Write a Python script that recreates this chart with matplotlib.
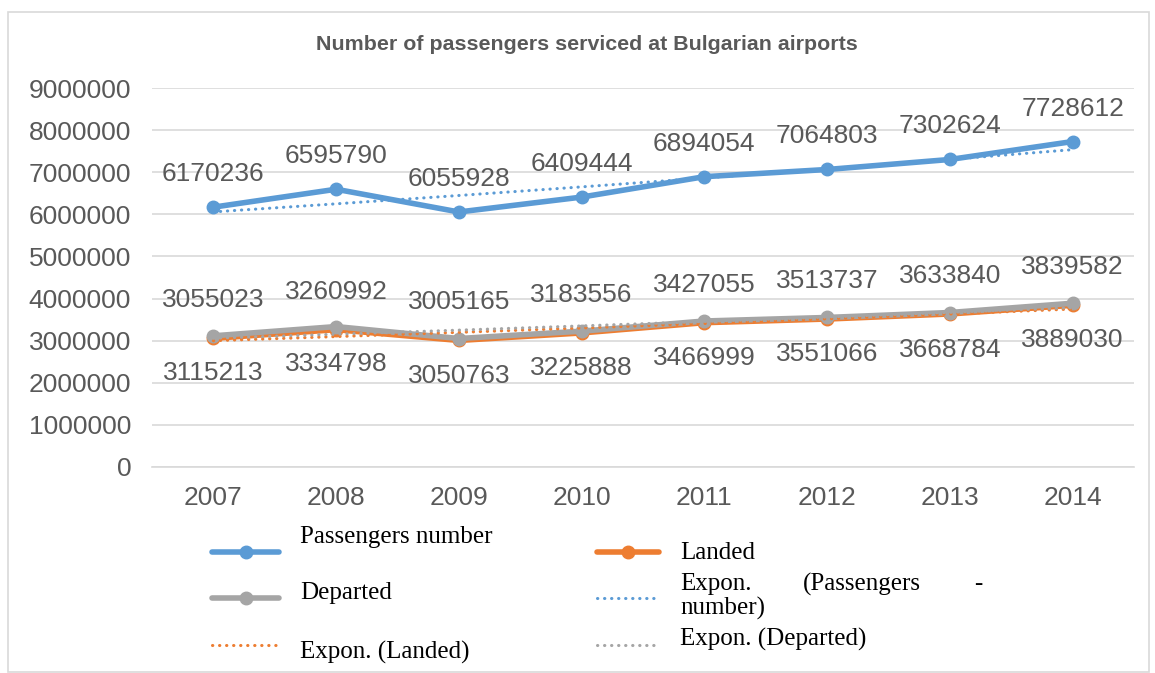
import numpy as np
import matplotlib
matplotlib.use("Agg")
import matplotlib.pyplot as plt
from matplotlib.lines import Line2D
from matplotlib.patches import Rectangle

years = ["2007", "2008", "2009", "2010", "2011", "2012", "2013", "2014"]
passengers = [6170236, 6595790, 6055928, 6409444, 6894054, 7064803, 7302624, 7728612]
landed = [3055023, 3260992, 3005165, 3183556, 3427055, 3513737, 3633840, 3839582]
departed = [3115213, 3334798, 3050763, 3225888, 3466999, 3551066, 3668784, 3889030]
yticks = [0, 1000000, 2000000, 3000000, 4000000, 5000000, 6000000, 7000000, 8000000, 9000000]

BLUE = "#5B9BD5"
ORANGE = "#ED7D31"
GRAY = "#A5A5A5"
TXT = "#595959"

W, H = 1155, 673
fig = plt.figure(figsize=(W / 100, H / 100), dpi=100)
fig.patch.set_facecolor("white")
fig.add_artist(Rectangle((8 / W, 1 - 672 / H), (1149 - 8) / W, (672 - 12) / H,
                         transform=fig.transFigure, fill=False, edgecolor="#D9D9D9", lw=1.2))

ax = fig.add_axes([152 / W, 1 - 467 / H, (1134 - 152) / W, (467 - 88) / H])
x = np.arange(len(years))

def expfit(vals):
    t = np.arange(1, len(vals) + 1)
    b, lna = np.polyfit(t, np.log(vals), 1)
    return np.exp(lna) * np.exp(b * t)

DOTSTYLE = (0, (0.1, 2.2))

ax.plot(x, passengers, color=BLUE, lw=4, marker="o", ms=9, solid_capstyle="round", zorder=3)
ax.plot(x, landed, color=ORANGE, lw=4, marker="o", ms=9, solid_capstyle="round", zorder=3)
ax.plot(x, departed, color=GRAY, lw=4, marker="o", ms=9, solid_capstyle="round", zorder=3)
dots = dict(lw=2.2, linestyle=DOTSTYLE, dash_capstyle="round", zorder=4)
ax.plot(x, expfit(passengers), color=BLUE, **dots)
ax.plot(x, expfit(landed), color=ORANGE, **dots)
ax.plot(x, expfit(departed), color=GRAY, **dots)

lab = dict(ha="center", va="center", fontsize=19, color=TXT, family="Liberation Sans",
           textcoords="offset pixels")
for i in x:
    ax.annotate(str(passengers[i]), (i, passengers[i]), xytext=(0, 33), **lab)
    ax.annotate(str(landed[i]), (i, landed[i]), xytext=(0, 38), **lab)
    ax.annotate(str(departed[i]), (i, departed[i]), xytext=(0, -37), **lab)

ax.set_xlim(-0.5, len(years) - 0.5)
ax.set_ylim(0, 9000000)
ax.set_yticks(yticks)
ax.set_yticklabels([str(v) for v in yticks])
ax.set_xticks(x)
ax.set_xticklabels(years)
ax.grid(axis="y", color="#D9D9D9", lw=1.2)
ax.set_axisbelow(True)
for s in ["top", "right", "left"]:
    ax.spines[s].set_visible(False)
ax.spines["bottom"].set_color("#D9D9D9")
ax.spines["bottom"].set_linewidth(1.2)
ax.tick_params(axis="y", length=0, labelsize=19, labelcolor=TXT, pad=15)
ax.tick_params(axis="x", length=0, labelsize=19, labelcolor=TXT, pad=14)
for t in ax.get_xticklabels() + ax.get_yticklabels():
    t.set_family("Liberation Sans")

fig.text(587 / W, 1 - 45 / H, "Number of passengers serviced at Bulgarian airports",
         ha="center", va="center", fontsize=15.4, fontweight="bold", color=TXT,
         family="Liberation Sans")

# legend
def fx(px):
    return px / W

def fy(py):
    return 1 - py / H

def handle(x0, x1, y, color, dotted):
    if dotted:
        fig.add_artist(Line2D([fx(x0), fx(x1)], [fy(y), fy(y)], color=color, lw=2.2,
                              linestyle=DOTSTYLE, dash_capstyle="round"))
    else:
        fig.add_artist(Line2D([fx(x0), fx(x1)], [fy(y), fy(y)], color=color, lw=4,
                              solid_capstyle="round"))
        fig.add_artist(Line2D([fx((x0 + x1) / 2)], [fy(y)], color=color, marker="o", ms=9))

LFS = 18
lg = dict(fontsize=LFS, color="black", family="Liberation Serif", va="center", ha="left")
handle(212, 279, 552, BLUE, False)
fig.text(fx(300), fy(537), "Passengers number", **lg)
handle(597, 659, 552, ORANGE, False)
fig.text(fx(680), fy(553), "Landed", **lg)
handle(212, 279, 598, GRAY, False)
fig.text(fx(300), fy(593), "Departed", **lg)
handle(597, 659, 598, BLUE, True)
fig.text(fx(680), fy(584), "Expon.", **lg)
fig.text(fx(803), fy(584), "(Passengers", **lg)
fig.text(fx(982), fy(584), "-", ha="right", va="center", fontsize=LFS, family="Liberation Serif")
fig.text(fx(680), fy(608), "number)", **lg)
handle(212, 279, 645, ORANGE, True)
fig.text(fx(300), fy(652), "Expon. (Landed)", **lg)
handle(597, 659, 645, GRAY, True)
fig.text(fx(680), fy(639), "Expon. (Departed)", **lg)

fig.savefig("out.png", dpi=100)
